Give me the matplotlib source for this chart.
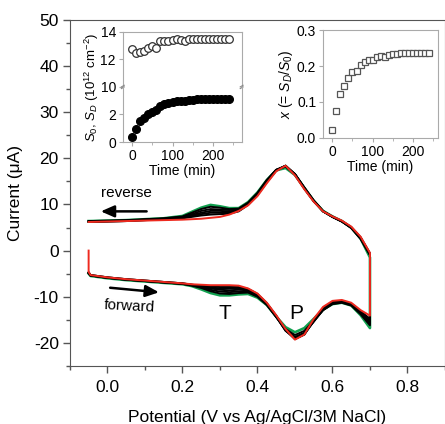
import matplotlib
matplotlib.use("Agg")
import matplotlib.pyplot as plt

plt.rcParams['font.family'] = ['Liberation Sans', 'DejaVu Sans']
plt.rcParams['mathtext.fontset'] = 'custom'
plt.rcParams['mathtext.rm'] = 'Liberation Sans'
plt.rcParams['mathtext.it'] = 'Liberation Sans:italic'
plt.rcParams['axes.unicode_minus'] = False

# ---- CV data (potential grid, V) ----
potential = [-0.05, -0.045, 0.0, 0.05, 0.10, 0.15, 0.20, 0.225, 0.25, 0.275, 0.30, 0.325, 0.35, 0.375,
             0.40, 0.425, 0.45, 0.475, 0.50, 0.525, 0.55, 0.575, 0.60, 0.625, 0.65, 0.675, 0.70]

# forward scans (uA), first cycle green, last cycle red, intermediate black
fwd_first = [-5.0, -5.5, -6.0, -6.4, -6.7, -7.0, -7.3, -7.7, -8.4, -9.2, -9.7, -9.7, -9.5, -9.4,
             -10.2, -11.8, -14.3, -16.6, -17.7, -16.8, -14.8, -12.8, -11.6, -11.3, -11.9, -14.0, -16.8]
fwd_last = [-4.6, -5.3, -5.8, -6.2, -6.5, -6.8, -7.1, -7.3, -7.4, -7.5, -7.5, -7.5, -7.6, -8.2,
            -9.3, -11.3, -14.0, -17.0, -19.3, -18.2, -14.8, -12.2, -10.9, -10.7, -11.3, -12.9, -14.1]
fwd_mid = [
    [-4.9, -5.4, -5.9, -6.3, -6.6, -6.9, -7.2, -7.6, -8.1, -8.8, -9.3, -9.4, -9.2, -9.1,
     -10.0, -11.8, -14.4, -17.0, -18.3, -17.4, -15.2, -12.9, -11.6, -11.3, -11.9, -13.8, -16.2],
    [-4.9, -5.4, -5.9, -6.3, -6.6, -6.9, -7.2, -7.5, -7.9, -8.5, -8.9, -9.0, -8.9, -8.9,
     -9.8, -11.7, -14.4, -17.3, -18.7, -17.8, -15.4, -12.9, -11.5, -11.2, -11.8, -13.6, -15.8],
    [-4.8, -5.4, -5.9, -6.3, -6.6, -6.9, -7.2, -7.5, -7.8, -8.2, -8.5, -8.6, -8.5, -8.6,
     -9.6, -11.6, -14.3, -17.4, -19.0, -18.0, -15.4, -12.8, -11.4, -11.1, -11.7, -13.5, -15.5],
    [-4.8, -5.3, -5.8, -6.2, -6.5, -6.8, -7.1, -7.4, -7.7, -8.0, -8.2, -8.2, -8.2, -8.4,
     -9.5, -11.5, -14.2, -17.3, -19.1, -18.2, -15.3, -12.6, -11.3, -11.0, -11.6, -13.3, -15.2],
    [-4.7, -5.3, -5.8, -6.2, -6.5, -6.8, -7.1, -7.4, -7.6, -7.8, -7.9, -7.9, -7.9, -8.3,
     -9.4, -11.4, -14.1, -17.2, -19.2, -18.2, -15.1, -12.4, -11.1, -10.9, -11.5, -13.1, -14.8],
]
# reverse scans (uA), listed on the same ascending potential grid
rev_first = [6.4, 6.4, 6.5, 6.6, 6.8, 7.0, 7.5, 8.4, 9.3, 9.9, 9.6, 9.2, 9.2, 10.5,
             12.6, 15.3, 17.4, 17.9, 16.4, 13.6, 10.8, 8.6, 7.4, 6.4, 5.0, 2.6, -1.5]
rev_last = [6.2, 6.2, 6.3, 6.4, 6.5, 6.6, 6.7, 6.8, 6.9, 7.1, 7.3, 7.8, 8.6, 9.8,
            11.8, 14.6, 17.2, 18.4, 16.3, 13.3, 10.6, 8.5, 7.4, 6.5, 5.2, 3.0, -0.5]
rev_mid = [
    [6.4, 6.4, 6.5, 6.6, 6.8, 7.0, 7.4, 8.2, 9.0, 9.5, 9.3, 9.0, 9.1, 10.4,
     12.5, 15.3, 17.5, 18.2, 16.6, 13.7, 10.9, 8.6, 7.3, 6.3, 4.9, 2.5, -1.0],
    [6.3, 6.3, 6.4, 6.5, 6.7, 6.9, 7.3, 7.9, 8.6, 9.0, 8.9, 8.8, 9.0, 10.3,
     12.4, 15.2, 17.5, 18.3, 16.6, 13.6, 10.8, 8.5, 7.3, 6.3, 4.9, 2.6, -0.9],
    [6.3, 6.3, 6.4, 6.5, 6.7, 6.9, 7.2, 7.7, 8.2, 8.6, 8.6, 8.5, 8.8, 10.1,
     12.3, 15.1, 17.5, 18.4, 16.6, 13.6, 10.8, 8.5, 7.3, 6.3, 5.0, 2.7, -0.8],
    [6.3, 6.3, 6.3, 6.4, 6.6, 6.8, 7.1, 7.5, 7.9, 8.2, 8.2, 8.2, 8.6, 10.0,
     12.1, 15.0, 17.4, 18.4, 16.5, 13.5, 10.7, 8.5, 7.3, 6.4, 5.0, 2.8, -0.7],
    [6.2, 6.2, 6.3, 6.4, 6.6, 6.7, 7.0, 7.3, 7.6, 7.8, 7.9, 8.0, 8.5, 9.9,
     12.0, 14.8, 17.3, 18.4, 16.4, 13.4, 10.7, 8.5, 7.4, 6.4, 5.1, 2.9, -0.6],
]
start_current = 0.0  # initial point of the last scan

# ---- inset data ----
time_min = [0, 10, 20, 30, 40, 50, 60, 70, 80, 90, 100, 110, 120, 130, 140, 150, 160, 170, 180,
            190, 200, 210, 220, 230, 240]
s_0 = [12.75, 12.45, 12.55, 12.6, 12.8, 12.95, 12.85, 13.3, 13.3, 13.3, 13.4, 13.5, 13.4, 13.3,
       13.5, 13.5, 13.5, 13.5, 13.5, 13.45, 13.45, 13.45, 13.45, 13.45, 13.45]
s_d = [0.35, 0.95, 1.55, 1.75, 2.0, 2.15, 2.35, 2.6, 2.75, 2.8, 2.9, 2.95, 3.0, 3.0, 3.05, 3.05,
       3.1, 3.1, 3.1, 3.1, 3.1, 3.1, 3.1, 3.1, 3.1]
ratio = [0.023, 0.074, 0.121, 0.143, 0.166, 0.183, 0.187, 0.203, 0.21, 0.217, 0.217, 0.224, 0.228,
         0.226, 0.231, 0.233, 0.234, 0.235, 0.235, 0.235, 0.237, 0.236, 0.236, 0.237, 0.237]

fig = plt.figure(figsize=(4.45, 4.24), dpi=100)
ax = fig.add_axes([0.157, 0.137, 0.843, 0.816])


def cycle(fwd, rev):
    xs = list(potential) + list(reversed(potential))
    ys = list(fwd) + list(reversed(rev))
    return xs, ys


xs, ys = cycle(fwd_first, rev_first)
ax.plot(xs, ys, color='#12a150', lw=1.9, zorder=2)
for f, r in zip(fwd_mid, rev_mid):
    xs, ys = cycle(f, r)
    ax.plot(xs, ys, color='black', lw=1.4, zorder=3)
xs, ys = cycle(fwd_last, rev_last)
ax.plot([potential[0]] + xs, [start_current] + ys, color='#ee2a1f', lw=1.4, zorder=4)

ax.set_xlim(-0.1, 0.9)
ax.set_ylim(-25, 50)
ax.set_xticks([0.0, 0.2, 0.4, 0.6, 0.8])
ax.set_xticks([-0.1, 0.1, 0.3, 0.5, 0.7, 0.9], minor=True)
ax.set_yticks([-20, -10, 0, 10, 20, 30, 40, 50])
ax.set_yticks([-25, -15, -5, 5, 15, 25, 35, 45], minor=True)
ax.set_xticklabels(['0.0', '0.2', '0.4', '0.6', '0.8'])
ax.tick_params(direction='out', length=5, width=1, colors='#555555', labelcolor='black',
               labelsize=12.5)
ax.tick_params(axis='x', pad=5)
ax.tick_params(axis='y', pad=3)
ax.tick_params(which='minor', direction='out', length=3, width=1, colors='#555555')
for s in ax.spines.values():
    s.set_color('#555555')
ax.set_xlabel('Potential (V vs Ag/AgCl/3M NaCl)', fontsize=12.5, labelpad=11)
ax.set_ylabel('Current (\u03bcA)', fontsize=12.5, labelpad=8)

ax.text(0.05, 12.4, 'reverse', fontsize=11, ha='center', va='center')
ax.annotate('', xy=(-0.025, 8.5), xytext=(0.112, 8.5),
            arrowprops=dict(arrowstyle='-|>,head_length=0.8,head_width=0.35', lw=1.8, color='black'))
ax.text(0.059, -12.0, 'forward', fontsize=11, ha='center', va='center', rotation=-3)
ax.annotate('', xy=(0.145, -9.1), xytext=(0.0, -8.0),
            arrowprops=dict(arrowstyle='-|>,head_length=0.8,head_width=0.35', lw=1.8, color='black'))
ax.text(0.312, -13.7, 'T', fontsize=15, ha='center', va='center')
ax.text(0.503, -13.7, 'P', fontsize=15, ha='center', va='center')

# ---- inset 1 (broken y axis) ----
gray = '#aaaaaa'
ax_top = fig.add_axes([0.276, 0.795, 0.267, 0.130])
ax_bot = fig.add_axes([0.276, 0.665, 0.267, 0.130])
ax_top.plot(time_min, s_0, 'o', mfc='white', mec='#333333', ms=5.5, mew=0.9)
ax_bot.plot(time_min, s_d, 'o', color='black', ms=5.5)
ax_top.set_ylim(10, 14)
ax_bot.set_ylim(0, 4)
ax_top.set_yticks([10, 12, 14])
ax_bot.set_yticks([0, 2])
for a in (ax_top, ax_bot):
    a.set_xlim(-23, 271)
    a.set_xticks([0, 100, 200])
    a.set_xticks([50, 150, 250], minor=True)
    for s in a.spines.values():
        s.set_color(gray)
    a.tick_params(direction='out', length=3, colors=gray, labelcolor='black', labelsize=10, pad=2)
    a.tick_params(which='minor', direction='out', length=2, colors=gray)
ax_top.spines['bottom'].set_visible(False)
ax_bot.spines['top'].set_visible(False)
ax_top.tick_params(axis='x', which='both', bottom=False, labelbottom=False)
ax_bot.set_xlabel('Time (min)', fontsize=10, labelpad=1)
for xb in (0, 1):
    for dy in (-0.015, 0.015):
        ax_bot.plot([xb - 0.012, xb + 0.012], [1 + dy - 0.015, 1 + dy + 0.015],
                    transform=ax_bot.transAxes, color='#888888', lw=0.8, clip_on=False)
fig.text(0.207, 0.795, '$S_0$, $S_D$ (10$^{12}$ cm$^{-2}$)', rotation=90, fontsize=9.5,
         ha='center', va='center')

# ---- inset 2 ----
ax2 = fig.add_axes([0.726, 0.675, 0.258, 0.254])
ax2.plot(time_min, ratio, 's', mfc='white', mec='#555555', ms=5, mew=0.9)
ax2.set_xlim(-23, 262)
ax2.set_ylim(0, 0.3)
ax2.set_xticks([0, 100, 200])
ax2.set_xticks([50, 150, 250], minor=True)
ax2.set_yticks([0.0, 0.1, 0.2, 0.3])
ax2.set_yticklabels(['0.0', '0.1', '0.2', '0.3'])
for s in ax2.spines.values():
    s.set_color(gray)
ax2.tick_params(direction='out', length=3, colors=gray, labelcolor='black', labelsize=10, pad=2)
ax2.tick_params(which='minor', direction='out', length=2, colors=gray)
ax2.set_xlabel('Time (min)', fontsize=10, labelpad=1)
ax2.set_ylabel('$x$ (= $S_D$/$S_0$)', fontsize=10, labelpad=1)

fig.savefig('out.png', dpi=100)
